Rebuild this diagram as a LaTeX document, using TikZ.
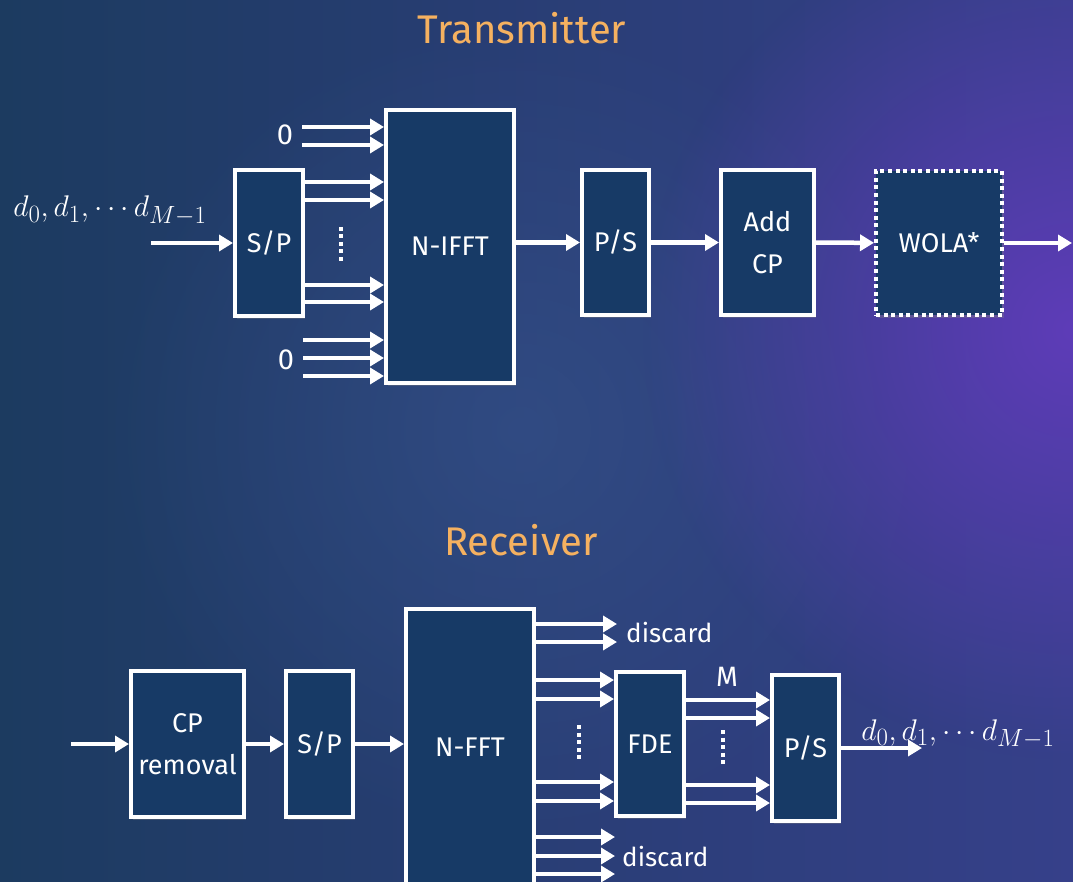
\documentclass[tikz,border=0pt]{standalone}
\usepackage{amsmath}
\usepackage{graphicx}
\usepackage{fontspec}
\setmainfont{Fira Sans}
\newfontfamily\titlefont{Fira Sans}
\usetikzlibrary{arrows.meta,positioning,fadings,shadows}
\definecolor{BgLeft}{HTML}{1C3B60}
\definecolor{BgRight}{HTML}{36408A}
\definecolor{BgGlow}{HTML}{5E3CB8}
\definecolor{BgMid}{HTML}{36548C}
\definecolor{BoxBlue}{HTML}{173A66}
\definecolor{TitleOrange}{HTML}{F5B160}
\tikzfading[name=softglow,inner color=transparent!0,outer color=transparent!100]
\newcommand{\dseq}{\scalebox{1.2}{$d_0,d_1,\cdots d_{M-1}$}}
\tikzset{
  blockbox/.style={draw=white,line width=4pt,fill=BoxBlue,align=center,text=white,inner sep=0pt,font=\fontsize{27}{42}\selectfont,drop shadow={opacity=0.35,shadow xshift=2pt,shadow yshift=-3pt}},
  wolabox/.style={blockbox,dash pattern=on 4pt off 3.6pt},
  sigarrow/.style={-{Triangle[length=14pt,width=16pt]},line width=4.5pt,draw=white},
  dotsline/.style={line width=4pt,draw=white,dash pattern=on 4pt off 3.5pt},
  titletext/.style={font=\titlefont\fontsize{40}{48}\selectfont,text=TitleOrange},
  lbltext/.style={font=\fontsize{26}{32}\selectfont,text=white,inner sep=1pt},
  zerotext/.style={lbltext,font=\fontsize{29}{32}\selectfont},
  mathtext/.style={font=\fontsize{24.88}{30}\selectfont,text=white,inner sep=0pt}
}

\begin{document}
\begin{tikzpicture}[x=1pt,y=-1pt]
\useasboundingbox (0,0) rectangle (1073,882);
\clip (0,0) rectangle (1073,882);
% background
\shade[left color=BgLeft,right color=BgRight] (0,0) rectangle (1073,882);
\fill[BgMid,path fading=softglow,opacity=0.6] (520,430) circle (420pt);
\fill[BgGlow,path fading=softglow] (1073,330) circle (430pt);

% transmitter
\node[titletext] (txtitle) at (522,28) {Transmitter};
\node[blockbox,minimum width=68pt,minimum height=146pt] (sp1) at (269,243) {S/P};
\node[blockbox,minimum width=128pt,minimum height=273pt] (ifft) at (450,246.5) {N-IFFT};
\node[blockbox,minimum width=67pt,minimum height=145pt] (ps1) at (615.5,242.5) {P/S};
\node[blockbox,minimum width=93pt,minimum height=145pt] (addcp) at (767.5,242.5) {Add\\CP};
\node[wolabox,minimum width=126pt,minimum height=144pt] (wola) at (939,243) {WOLA*};
\node[zerotext] (zt) at (285,135) {0};
\node[zerotext] (zb) at (286,360) {0};
\node[mathtext,anchor=base] (din) at (110,217) {\dseq};
\coordinate (in1) at (151,243);
\coordinate (out1) at (1072,243);

\draw[sigarrow] (in1) -- (sp1);
\foreach \y in {127,145}
  \draw[sigarrow,shorten <=8pt] (zt.east |- 0,\y) -- (ifft.west |- 0,\y);
\foreach \y in {182,200,285,302}
  \draw[sigarrow] (sp1.east |- 0,\y) -- (ifft.west |- 0,\y);
\foreach \y in {340,358,376}
  \draw[sigarrow,shorten <=8pt] (zb.east |- 0,\y) -- (ifft.west |- 0,\y);
\draw[dotsline] (341,227) -- (341,263);
\draw[sigarrow] (ifft.east |- ps1.west) -- (ps1.west);
\draw[sigarrow] (ps1) -- (addcp);
\draw[sigarrow] (addcp) -- (wola);
\draw[sigarrow] (wola) -- (out1);

% receiver
\node[titletext] (rxtitle) at (521,540) {Receiver};
\node[blockbox,minimum width=113pt,minimum height=146pt] (cpr) at (187.5,744) {CP\\removal};
\node[blockbox,minimum width=67pt,minimum height=146pt] (sp2) at (319.5,744) {S/P};
\node[blockbox,minimum width=128pt,minimum height=276pt] (fft) at (470,747) {N-FFT};
\node[blockbox,minimum width=68pt,minimum height=144pt] (fde) at (650,744) {FDE};
\node[blockbox,minimum width=67pt,minimum height=146pt] (ps2) at (805.5,748) {P/S};
\node[lbltext,anchor=west] (dtop) at (625,633) {discard};
\node[lbltext,anchor=west] (dbot) at (621,857) {discard};
\node[lbltext,font=\fontsize{28}{32}\selectfont] (mlbl) at (727,677) {M};
\node[mathtext,anchor=base] (dout) at (958,740) {\dseq};
\coordinate (in2) at (71,744);
\coordinate (out2) at (922,748);

\draw[sigarrow] (in2) -- (cpr);
\draw[sigarrow] (cpr) -- (sp2);
\draw[sigarrow] (sp2) -- (fft.west |- sp2);
\foreach \y in {624,642}
  \draw[sigarrow,shorten >=8pt] (fft.east |- 0,\y) -- (dtop.west |- 0,\y);
\foreach \y in {680,699,782,801}
  \draw[sigarrow] (fft.east |- 0,\y) -- (fde.west |- 0,\y);
\foreach \y in {837,856,874}
  \draw[sigarrow,shorten >=6pt] (fft.east |- 0,\y) -- (dbot.west |- 0,\y);
\foreach \y in {700,718,785,803}
  \draw[sigarrow] (fde.east |- 0,\y) -- (ps2.west |- 0,\y);
\draw[dotsline] (579,725) -- (579,760);
\draw[dotsline] (723,730) -- (723,765);
\draw[sigarrow] (ps2) -- (out2);
\end{tikzpicture}
\end{document}
